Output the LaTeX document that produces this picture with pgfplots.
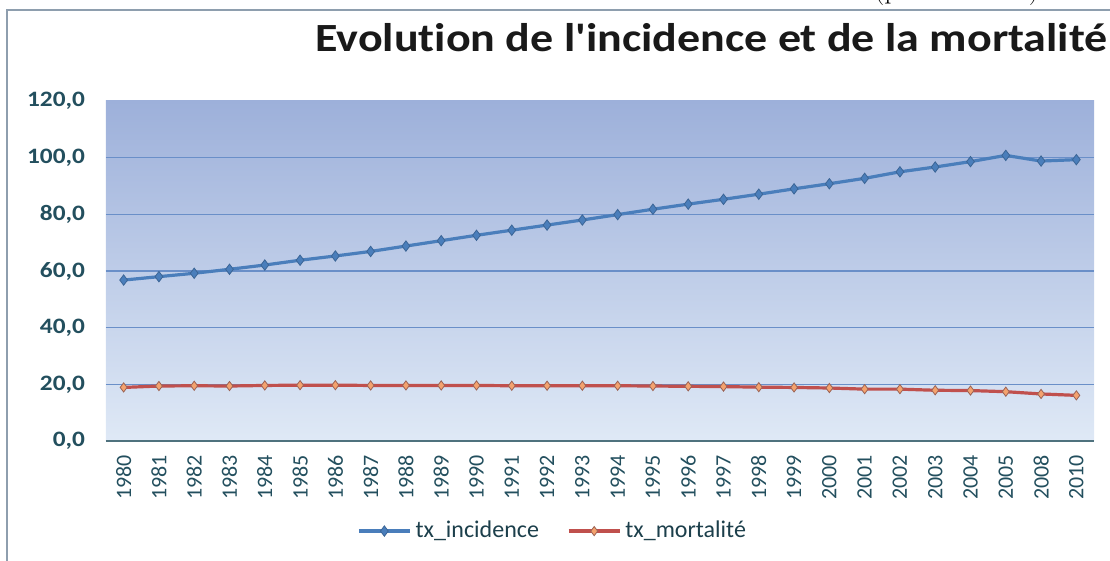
\documentclass[border=0pt]{standalone}
\usepackage{fontspec}
\setmainfont{Carlito}
\newfontfamily\widefont[FakeStretch=1.15, Ligatures=NoCommon]{Carlito}
\usepackage{pgfplots}
\pgfplotsset{compat=1.18}
\definecolor{incblue}{HTML}{4A7EBB}
\definecolor{mortred}{HTML}{C0504D}
\definecolor{mortfill}{HTML}{F4A26E}
\definecolor{mortedge}{HTML}{9B6355}
\definecolor{bgtop}{HTML}{9DB0DA}
\definecolor{bgbot}{HTML}{DFE9F6}
\definecolor{gridc}{HTML}{6A8FC8}
\definecolor{labc}{HTML}{234F5E}
\definecolor{framec}{HTML}{8E9EAE}

\begin{document}
\begin{tikzpicture}
% 1 px of the reference = 0.5pt
\useasboundingbox (0,0) rectangle (555pt,280.5pt);
\draw[framec, line width=1pt] (3.5pt,0) -- (3.5pt,275.5pt) -- (556pt,275.5pt);
\node[anchor=base west, inner sep=0]
  at (437pt,281.2pt) {\fontspec{Latin Modern Roman}\fontsize{14.2}{16}\selectfont(pour 100\,000)};
\node[anchor=base east, inner sep=0, text=black!90,
  font=\widefont\bfseries\fontsize{20}{22}\selectfont]
  at (554pt,254.5pt) {Evolution de l'incidence et de la mortalité};

\begin{axis}[
    at={(53pt,60pt)}, anchor=south west,
    scale only axis, width=494pt, height=170pt,
    xmin=-0.5, xmax=27.5, ymin=0, ymax=120,
    xtick={0,...,27},
    xticklabels={1980,1981,1982,1983,1984,1985,1986,1987,1988,1989,1990,1991,1992,1993,1994,1995,1996,1997,1998,1999,2000,2001,2002,2003,2004,2005,2008,2010},
    ytick={0,20,...,120},
    extra y ticks={20,40,60,80,100},
    extra y tick labels={},
    extra y tick style={grid=major},
    major grid style={gridc, line width=0.6pt},
    major tick length=0,
    separate axis lines,
    axis x line*=bottom,
    axis y line*=left,
    x axis line style={draw=labc!80, line width=0.8pt, -},
    y axis line style={draw=none},
    axis background/.style={top color=bgtop, bottom color=bgbot},
    xticklabel style={rotate=90, anchor=east, xshift=-3.5pt, text=labc,
        font=\fontsize{11}{13}\selectfont},
    yticklabel style={xshift=-7pt, text=labc,
        font=\widefont\bfseries\fontsize{11}{13}\selectfont,
        /pgf/number format/.cd, fixed, fixed zerofill, precision=1,
        use comma, assume math mode=true},
    legend style={at={(0.453,-0.265)}, anchor=center, draw=none, fill=none,
        legend columns=2, font=\fontsize{12}{14}\selectfont, text=labc!80!black,
        /tikz/every even column/.append style={column sep=12pt}},
    legend image code/.code={\draw[mark repeat=2, mark phase=2]
        plot coordinates {(0cm,0cm) (0.45cm,0cm) (0.9cm,0cm)};},
]
\addplot[incblue, line width=1.6pt, mark=diamond*, mark size=2.6pt,
    mark options={fill=incblue, draw=incblue!80!black, line width=0.4pt}]
coordinates {
(0,56.8) (1,58.0) (2,59.2) (3,60.6) (4,62.1) (5,63.8) (6,65.3) (7,66.9)
(8,68.8) (9,70.7) (10,72.6) (11,74.4) (12,76.2) (13,78.0) (14,79.9) (15,81.8)
(16,83.6) (17,85.3) (18,87.1) (19,89.0) (20,90.8) (21,92.7) (22,95.0) (23,96.7)
(24,98.6) (25,100.8) (26,98.8) (27,99.3)};
\addplot[mortred, line width=1.6pt, mark=diamond*, mark size=2.3pt,
    mark options={fill=mortfill, draw=mortedge, line width=0.4pt}]
coordinates {
(0,18.9) (1,19.4) (2,19.5) (3,19.4) (4,19.6) (5,19.7) (6,19.7) (7,19.6)
(8,19.6) (9,19.6) (10,19.6) (11,19.5) (12,19.5) (13,19.5) (14,19.5) (15,19.4)
(16,19.3) (17,19.2) (18,19.0) (19,18.9) (20,18.7) (21,18.3) (22,18.3) (23,17.9)
(24,17.8) (25,17.4) (26,16.6) (27,16.1)};
\legend{tx\_incidence, tx\_mortalité}
\end{axis}
\end{tikzpicture}
\end{document}
